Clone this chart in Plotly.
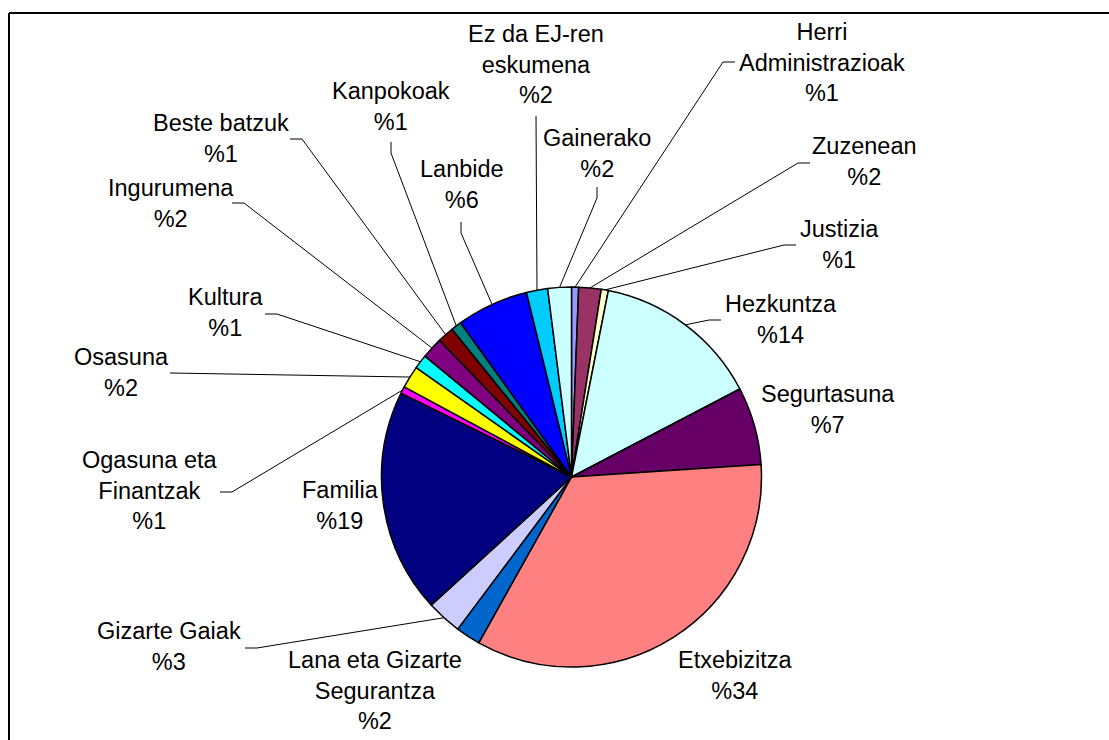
import math
import plotly.graph_objects as go

# ---------------- data ----------------
categories = [
    "Herri Administrazioak", "Zuzenean", "Justizia", "Hezkuntza", "Segurtasuna",
    "Etxebizitza", "Lana eta Gizarte Segurantza", "Gizarte Gaiak", "Familia",
    "Ogasuna eta Finantzak", "Osasuna", "Kultura", "Ingurumena", "Beste batzuk",
    "Kanpokoak", "Lanbide", "Ez da EJ-ren eskumena", "Gainerako",
]
shares = [0.6, 1.9, 0.6, 14.2, 6.6, 34.1, 2.1, 3.0, 19.0,
          0.6, 1.9, 1.2, 1.8, 1.4, 0.9, 6.1, 1.8, 2.0]

colors = ["#9999FF", "#993366", "#FFFFCC", "#CCFFFF", "#660066",
          "#FF8080", "#0066CC", "#CCCCFF", "#000080",
          "#FF00FF", "#FFFF00", "#00FFFF", "#800080", "#800000",
          "#008080", "#0000FF", "#00CCFF", "#CCFFFF"]

wrapped = {
    "Herri Administrazioak": "Herri<br>Administrazioak",
    "Lana eta Gizarte Segurantza": "Lana eta Gizarte<br>Segurantza",
    "Ogasuna eta Finantzak": "Ogasuna eta<br>Finantzak",
    "Ez da EJ-ren eskumena": "Ez da EJ-ren<br>eskumena",
}

# ---------------- layout (page pixel coordinates) ----------------
W, H = 1109, 740
CX, CY, R = 571.5, 477.0, 190.0

# label centre (x, y) for each category
label_pos = [
    (822, 62), (864, 161), (839, 244), (781, 319), (828, 409),
    (735, 675), (375, 690), (169, 646), (340, 505),
    (150, 490), (121, 372), (225, 312), (171, 203), (221, 138),
    (391, 106), (462, 184), (536, 64), (597, 153),
]
# leader line attach point at the label and elbow direction
leader = [
    ((735, 62), "L"), ((810, 163), "L"), ((796, 245), "L"), ((721, 320), "L"), None,
    None, None, ((245, 648), "R"), None,
    ((220, 492), "R"), ((170, 373), "R"), ((265, 314), "R"), ((232, 203), "R"), ((290, 139), "R"),
    ((391, 142), "B"), ((461, 222), "B"), ((536, 116), "B"), ((597, 187), "B"),
]

fig = go.Figure()

total = sum(shares)
cum = 0.0
for i, v in enumerate(shares):
    mid = (cum + v / 2.0) / total * 2 * math.pi
    cum += v
    if leader[i] is None:
        continue
    (ax, ay), kind = leader[i]
    rx = CX + R * math.sin(mid)
    ry = CY - R * math.cos(mid)
    if kind == "L":
        ex, ey = ax - 12, ay
    elif kind == "R":
        ex, ey = ax + 12, ay
    else:
        ex, ey = ax, ay + 11
    fig.add_trace(go.Scatter(
        x=[rx, ex, ax], y=[ry, ey, ay], mode="lines",
        line=dict(color="black", width=1), hoverinfo="skip", showlegend=False,
    ))

fig.add_trace(go.Pie(
    labels=categories, values=shares, sort=False, direction="clockwise",
    rotation=0, textinfo="none", hoverinfo="label+percent",
    marker=dict(colors=colors, line=dict(color="black", width=1.5)),
    domain=dict(
        x=[(CX - R) / W, (CX + R) / W],
        y=[(H - (CY + R)) / H, (H - (CY - R)) / H],
    ),
    showlegend=False,
))

for i, name in enumerate(categories):
    pct = round(shares[i] / total * 100)
    x, y = label_pos[i]
    fig.add_annotation(
        x=x, y=y, xref="x", yref="y", showarrow=False,
        text=f"{wrapped.get(name, name)}<br>%{pct}",
        xanchor="center", yanchor="middle", align="center",
        font=dict(family="Arial, Liberation Sans, sans-serif", size=23.5, color="black"),
    )

# chart frame (top and left edges visible)
fig.add_shape(type="line", xref="x", yref="y", x0=9, y0=13, x1=W + 5, y1=13,
              line=dict(color="black", width=2))
fig.add_shape(type="line", xref="x", yref="y", x0=9, y0=13, x1=9, y1=H + 5,
              line=dict(color="black", width=2))

fig.update_layout(
    width=W, height=H, autosize=False,
    margin=dict(l=0, r=0, t=0, b=0),
    paper_bgcolor="white", plot_bgcolor="white",
    xaxis=dict(range=[0, W], visible=False, fixedrange=True),
    yaxis=dict(range=[H, 0], visible=False, fixedrange=True),
)

fig.write_html(
    "out.html",
    config={"displayModeBar": False},
    post_script="document.body.style.margin='0px';document.body.style.overflow='hidden';",
)
